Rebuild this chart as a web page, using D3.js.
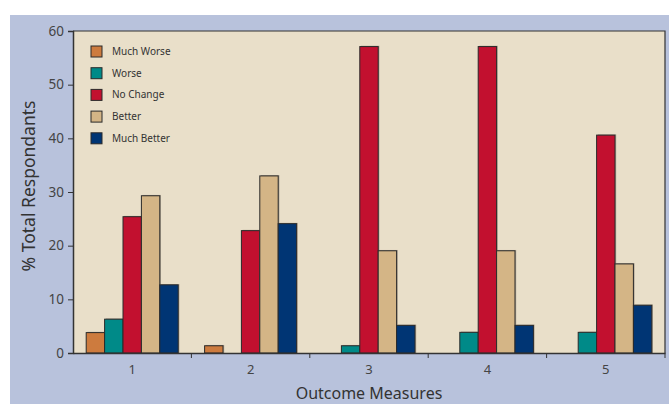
<!DOCTYPE html>
<html><head><meta charset="utf-8">
<script src="https://cdn.jsdelivr.net/npm/d3@7"></script>
<style>body{margin:0;background:#fff}svg{display:block}text{font-family:"Noto Sans","Open Sans",sans-serif}</style>
</head><body><svg id="c" width="669" height="404"></svg>
<script>
const categories = ["1","2","3","4","5"];
const seriesNames = ["Much Worse","Worse","No Change","Better","Much Better"];
const seriesColors = ["#cd7b3e","#008a88","#c2102f","#d4b586","#003574"];
const muchWorse  = [3.8, 1.35, 0, 0, 0];
const worse      = [6.3, 0, 1.35, 3.85, 3.85];
const noChange   = [25.4, 22.8, 57.1, 57.1, 40.6];
const better     = [29.3, 33.0, 19.05, 19.05, 16.6];
const muchBetter = [12.7, 24.1, 5.15, 5.15, 8.9];
const yTicks = [0,10,20,30,40,50,60];
const seriesValues = [muchWorse, worse, noChange, better, muchBetter];

const svg = d3.select("#c");
const m = {l:73, t:31, r:665, b:353};
svg.append("rect").attr("x",10).attr("y",15).attr("width",659).attr("height",389).attr("fill","#b8c2dc");
svg.append("rect").attr("x",m.l).attr("y",m.t).attr("width",m.r-m.l).attr("height",m.b-m.t).attr("fill","#e9dfc9");

const x0 = d3.scaleBand().domain(categories).range([m.l,m.r]).paddingInner(0.223).paddingOuter(0.1115);
const x1 = d3.scaleBand().domain(seriesNames).range([0,x0.bandwidth()]);
const y = d3.scaleLinear().domain([0,60]).range([m.b,m.t]);

const g = svg.append("g");
categories.forEach((c,ci)=>{
  seriesNames.forEach((s,si)=>{
    const v = seriesValues[si][ci];
    if(v<=0) return;
    const bx = x0(c)+x1(s), by = y(v), bw = x1.bandwidth(), bh = y(0)-y(v);
    g.append("rect").attr("x",bx+1.2).attr("y",by-0.8).attr("width",bw).attr("height",bh+0.8).attr("fill","#8a7f70").attr("opacity",0.6);
    g.append("rect").attr("x",bx).attr("y",by).attr("width",bw).attr("height",bh)
      .attr("fill",seriesColors[si]).attr("stroke","#2a2a2a").attr("stroke-width",1);
  });
});

// frame top/right
svg.append("path").attr("d",`M${m.l},${m.t}H${m.r}V${m.b}`).attr("fill","none").attr("stroke","#333").attr("stroke-width",1.2);

const ya = svg.append("g").attr("transform",`translate(${m.l},0)`)
  .call(d3.axisLeft(y).tickValues(yTicks).tickSize(5).tickPadding(4));
ya.select(".domain").attr("stroke","#333").attr("stroke-width",1.5);
ya.selectAll(".tick line").attr("stroke","#333");
ya.selectAll("text").attr("font-size",13.5).attr("fill","#444");

const xa = svg.append("g").attr("transform",`translate(0,${m.b})`)
  .call(d3.axisBottom(x0).tickSize(0).tickPadding(12));
xa.select(".domain").attr("stroke","#333").attr("stroke-width",1.5);
xa.selectAll("text").attr("font-size",13).attr("fill","#444");
const bounds = categories.map(c=>x0(c)-x0.step()*x0.paddingInner()/2).slice(1).concat([m.r]);
xa.selectAll(".bt").data(bounds).enter().append("line").attr("x1",d=>d).attr("x2",d=>d).attr("y1",0).attr("y2",5).attr("stroke","#333");

svg.append("text").attr("x",(m.l+m.r)/2).attr("y",399).attr("text-anchor","middle").attr("font-size",16).attr("fill","#333").text("Outcome Measures");
svg.append("text").attr("transform",`translate(35,186) rotate(-90)`).attr("text-anchor","middle").attr("font-size",17.5).attr("fill","#333").text("% Total Respondants");

const lg = svg.append("g");
seriesNames.forEach((s,i)=>{
  const yy = 46 + i*21.7;
  lg.append("rect").attr("x",91).attr("y",yy).attr("width",11).attr("height",11).attr("fill",seriesColors[i]).attr("stroke","#2a2a2a").attr("stroke-width",1);
  lg.append("text").attr("x",112).attr("y",yy+9).attr("font-size",10).attr("fill","#333").text(s);
});
</script></body></html>
